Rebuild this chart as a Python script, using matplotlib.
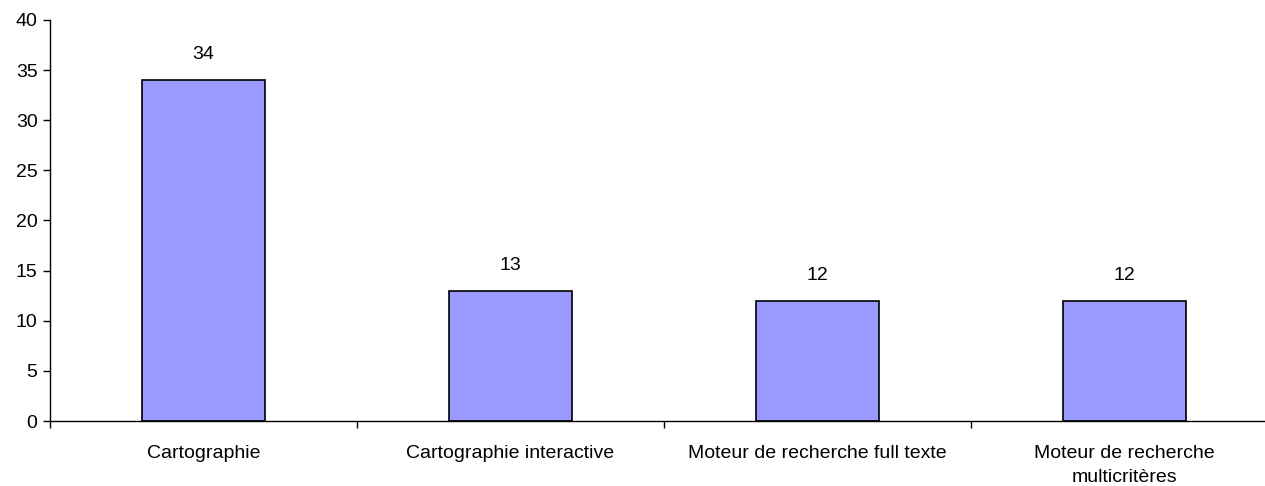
import matplotlib.pyplot as plt
import numpy as np

plt.rcParams['font.family'] = ['Liberation Sans', 'DejaVu Sans']

categories = ['Cartographie', 'Cartographie interactive',
              'Moteur de recherche full texte', 'Moteur de recherche\nmulticritères']
values = [34, 13, 12, 12]

W, H = 1265, 486
fig = plt.figure(figsize=(W / 100, H / 100), dpi=100)
# axes extends a little past the right border, as in the original
ax = fig.add_axes([50 / W, (H - 421) / H, 1228 / W, 401 / H])

x = np.arange(len(categories))
ax.bar(x, values, width=0.4, color='#9999FF', edgecolor='black', linewidth=1.2, zorder=2)
for xi, v in zip(x, values):
    ax.text(xi, v + 1.7, str(v), ha='center', va='bottom', fontsize=14)

ax.set_xlim(-0.5, len(categories) - 0.5)
ax.set_ylim(0, 40)
ax.set_yticks(range(0, 41, 5))
ax.set_xticks(x)
ax.set_xticklabels(categories, fontsize=14, linespacing=1.6)
ax.set_xticks(np.arange(-0.5, len(categories), 1), minor=True)
ax.tick_params(axis='x', which='major', length=0, pad=17)
ax.tick_params(axis='x', which='minor', length=5, width=1)
ax.tick_params(axis='y', length=5, width=1, labelsize=14, pad=4)

for s in ['top', 'right']:
    ax.spines[s].set_visible(False)
ax.spines['left'].set_linewidth(1)
ax.spines['bottom'].set_linewidth(1)

fig.savefig('out.png', dpi=100)
